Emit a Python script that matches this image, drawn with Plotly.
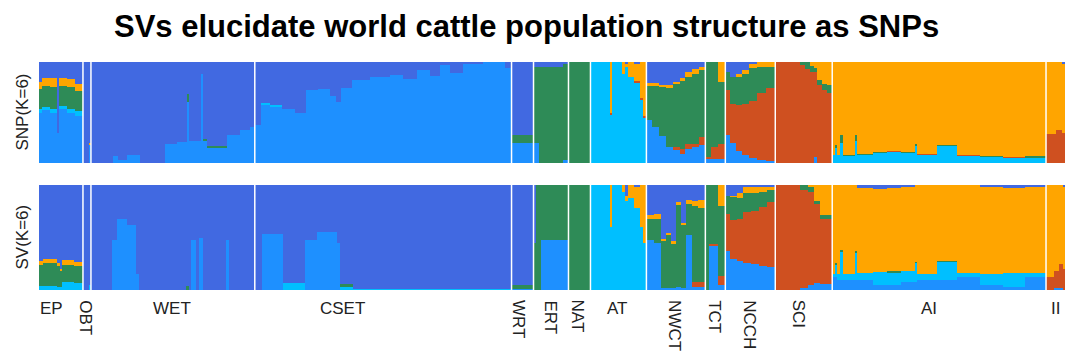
import plotly.graph_objects as go

# ---------------- data ----------------
groups = ["EP", "OBT", "WET", "CSET", "WRT", "ERT", "NAT", "AT", "NWCT", "TCT", "NCCH", "SCI", "AI", "II"]
group_sizes = [44, 8, 164, 257, 22, 35, 22, 56, 59, 20, 50, 57, 214, 19]
label_pos = [12.5, 46.3, 133.5, 304, 480.5, 512, 539.5, 578.5, 636, 676, 711, 761, 891, 1017]
label_rotated = [False, True, False, False, True, True, True, False, True, True, True, True, False, False]

components = ["K1", "K2", "K3", "K4", "K5", "K6"]
comp_colors = ["#1E90FF", "#00BFFF", "#CF5020", "#2E8B57", "#FFA500", "#4169E1"]

# rows: [width, K1 dodgerblue, K2 deepskyblue, K3 red, K4 green, K5 orange]; K6 (royal blue) = remainder
snp_rows = [
    # EP
    [3, .50, .03, 0, .20, .07], [8, .52, .03, 0, .21, .08], [8, .50, .03, 0, .22, .09],
    [1.5, .30, 0, 0, 0, 0], [8, .53, .03, 0, .20, .08], [8, .50, .03, 0, .22, .08],
    [7.5, .47, .04, 0, .20, .07],
    # OBT
    [6, 0, 0, 0, 0, 0], [2, .18, 0, 0, 0, .02],
    # WET
    [22, 0, 0, 0, 0, 0], [5, .07, 0, 0, 0, 0], [9, .03, 0, 0, 0, 0], [13, .08, 0, 0, 0, 0],
    [25, 0, 0, 0, 0, 0], [12, .19, 0, 0, 0, 0], [10, .21, 0, 0, 0, 0], [2, .60, 0, 0, .08, 0],
    [12, .22, 0, 0, 0, 0], [2, .88, 0, 0, 0, 0], [4, .22, 0, 0, .02, 0], [20, .15, 0, 0, .02, 0],
    [13, .28, 0, 0, 0, 0], [10, .33, 0, 0, 0, 0], [5, .36, 0, 0, 0, 0],
    # CSET
    [6, .38, 0, 0, 0, 0], [9, .58, .01, 0, 0, 0], [12, .56, .01, 0, 0, 0], [13, .53, 0, 0, 0, 0],
    [11, .50, 0, 0, 0, 0], [12, .72, 0, 0, 0, 0], [12, .73, 0, 0, 0, 0], [6, .66, 0, 0, 0, 0],
    [5, .60, 0, 0, 0, 0], [11, .74, 0, 0, 0, 0], [18, .82, 0, 0, 0, 0], [20, .85, 0, 0, 0, 0],
    [13, .87, 0, 0, 0, 0], [14, .83, 0, 0, 0, 0], [13, .92, 0, 0, 0, 0], [10, .86, 0, 0, 0, 0],
    [10, .97, 0, 0, 0, 0], [13, .89, 0, 0, 0, 0], [20, .98, 0, 0, 0, 0], [22, 1.0, 0, 0, 0, 0],
    [7, .94, 0, 0, 0, 0],
    # WRT
    [22, .20, 0, 0, .08, 0],
    # ERT
    [5, .20, 0, 0, .75, 0], [25, 0, 0, 0, .95, 0], [5, .03, 0, 0, .95, 0],
    # NAT
    [22, 0, 0, 0, 1.0, 0],
    # AT
    [20, 0, 1.0, 0, 0, 0], [2, 0, .48, .02, 0, .50], [10, 0, 1.0, 0, 0, 0], [3, 0, .88, 0, 0, .12],
    [3, 0, .95, 0, 0, .03], [6, 0, .85, 0, 0, .15], [6, 0, .80, .01, 0, .17], [3, 0, .62, .02, 0, .36],
    [3, 0, .45, .02, 0, .53],
    # NWCT
    [6, .43, 0, 0, .33, .03], [7, .36, 0, 0, .40, .03], [7, .27, 0, 0, .48, .02], [7, .16, 0, 0, .58, .03],
    [7, .13, 0, .03, .62, .02], [5, .09, 0, .05, .67, .03], [7, .14, 0, .05, .66, .05],
    [7, .16, 0, .03, .69, .05], [6, .18, 0, .08, .66, .03],
    # TCT
    [6, .04, 0, .02, .94, 0], [7, .04, 0, .12, .84, 0], [7, .04, 0, .15, .61, .20],
    # NCCH
    [5, .28, 0, .44, .18, 0], [6, .20, 0, .38, .27, 0], [6, .12, 0, .45, .28, .03],
    [7, .08, 0, .50, .30, .04], [8, .05, 0, .56, .33, .05], [9, .03, 0, .66, .26, .05],
    [9, .02, 0, .72, .21, .05],
    # SCI
    [25, 0, 0, 1.0, 0, 0], [5, 0, 0, .97, .03, 0], [5, 0, 0, .93, .07, 0], [4, 0, 0, .90, .06, .04],
    [3, .06, 0, .84, .04, .06], [5, 0, 0, .77, .05, .18], [5, 0, 0, .72, .06, .22], [5, 0, 0, .69, .08, .23],
    # AI
    [3, 0, .08, 0, 0, .92], [2, 0, .15, 0, .03, .82], [3, 0, .08, 0, 0, .92], [3, 0, .20, 0, .08, .72],
    [12, 0, .07, 0, .01, .92], [2, 0, .22, 0, .06, .72], [16, 0, .08, 0, .01, .91], [14, 0, .10, 0, .01, .89],
    [14, 0, .11, .01, 0, .88], [14, 0, .10, 0, .01, .89], [2, 0, .17, 0, .02, .81], [20, 0, .08, .01, 0, .91],
    [20, 0, .17, 0, .01, .82], [23, 0, .07, .01, 0, .92], [23, 0, .06, 0, .01, .93], [22, 0, .05, .01, 0, .94],
    [21, 0, .055, 0, .01, .935],
    # II
    [10, 0, 0, .29, 0, .71], [6, 0, 0, .33, 0, .67], [3, 0, 0, .30, 0, .68],
]

sv_rows = [
    # EP
    [4, 0, .04, 0, .20, .04], [14, 0, .035, 0, .22, .04], [3, 0, .03, 0, .20, .03],
    [2, 0, .03, 0, .15, .02], [12, 0, .08, 0, .16, .05], [9, 0, .07, 0, .16, .04],
    # OBT
    [6, 0, 0, 0, 0, 0], [2, 0, .05, 0, 0, 0],
    # WET
    [21, 0, 0, 0, 0, 0], [5, .48, 0, 0, 0, 0], [10, .68, 0, 0, 0, 0], [9, .62, 0, 0, 0, 0],
    [3, .15, 0, 0, 0, 0], [47, 0, 0, 0, 0, 0], [3, 0, 0, 0, .04, 0], [2, 0, 0, 0, 0, 0],
    [6, .48, 0, 0, 0, 0], [2, 0, 0, 0, 0, 0], [4, .50, 0, 0, 0, 0], [23, 0, 0, 0, 0, 0],
    [3, .48, 0, 0, 0, 0], [26, 0, 0, 0, 0, 0],
    # CSET
    [7, 0, 0, 0, 0, 0], [21, .53, 0, 0, 0, 0], [22, 0, .07, 0, 0, 0], [12, .48, 0, 0, 0, 0],
    [20, .55, 0, 0, 0, 0], [3, .45, 0, 0, 0, 0], [13, 0, .03, 0, .03, 0], [159, 0, .01, 0, 0, 0],
    # WRT
    [22, .01, 0, 0, .04, 0],
    # ERT
    [2, 0, 0, 0, .45, 0], [5, 0, 0, 0, 1.0, 0], [28, .48, 0, 0, .52, 0],
    # NAT
    [22, 0, 0, 0, 1.0, 0],
    # AT
    [20, 0, 1.0, 0, 0, 0], [2, 0, .60, 0, 0, .40], [10, 0, 1.0, 0, 0, 0], [3, 0, .93, 0, 0, .07],
    [3, 0, .85, 0, 0, .05], [6, 0, .88, 0, 0, .12], [6, 0, .78, 0, 0, .20], [3, 0, .60, 0, 0, .40],
    [3, 0, .45, 0, 0, .55],
    # NWCT
    [8, .48, 0, 0, .20, .03], [7, .45, 0, 0, .23, .04], [5, .02, 0, 0, .45, .02], [5, .02, 0, 0, .50, .02],
    [5, .02, 0, 0, .42, .03], [5, .03, 0, 0, .78, .03], [5, .02, 0, 0, .60, .02], [6, .52, 0, 0, .30, .04],
    [6, .03, 0, .05, .72, .05], [7, .03, 0, .05, .70, .08],
    # TCT
    [4, 0, 0, 0, 1.0, 0], [9, .42, 0, .02, .56, 0], [7, .05, 0, .08, .67, .20],
    # NCCH
    [5, .37, 0, .35, .18, 0], [7, .30, 0, .37, .22, .01], [6, .28, 0, .40, .20, .04],
    [8, .26, 0, .48, .18, .06], [8, .25, 0, .50, .17, .06], [8, .23, 0, .56, .14, .06],
    [8, .22, 0, .62, .11, .04],
    # SCI
    [25, 0, 0, 1.0, 0, 0], [8, .02, 0, .93, .05, 0], [6, .05, 0, .88, .05, .02],
    [6, .07, 0, .75, .03, .15], [12, .06, 0, .62, .03, .29],
    # AI
    [3, .12, .03, 0, 0, .85], [2, .12, .12, 0, .02, .74], [3, .10, .05, 0, 0, .85], [3, .10, .26, 0, .02, .62],
    [12, .10, .05, 0, 0, .85], [2, .10, .25, 0, .02, .63], [16, .10, .06, 0, 0, .81], [14, .05, .12, 0, 0, .79],
    [14, .05, .12, 0, .01, .79], [14, .08, .10, 0, 0, .80], [2, .08, .18, 0, .01, .73], [20, .10, .05, 0, 0, .85],
    [20, .10, .17, 0, .01, .72], [23, .12, .04, 0, 0, .84], [23, .05, .10, 0, 0, .83], [22, .03, .13, 0, 0, .81],
    [21, .12, .04, 0, 0, .83],
    # II
    [8, 0, 0, .12, 0, .88], [5, .02, 0, .16, 0, .82], [4, .02, 0, .23, 0, .75], [2, 0, 0, .20, 0, .78],
]

title_text = "SVs elucidate world cattle population structure as SNPs"
panel_labels = ["SNP(K=6)", "SV(K=6)"]

# ---------------- figure ----------------
# the page body has an 8px margin, so the figure is 8px smaller and
# positions below are given in window pixels minus that offset
OFF = 8
W, H = 1080 - OFF, 358 - OFF
def px_x(p):
    return (p - OFF) / W
def px_y(p):
    return 1 - (p - OFF) / H

total = sum(group_sizes)

fig = go.Figure()

def add_panel(rows, xa, ya):
    centers, widths = [], []
    pos = 0.0
    for r in rows:
        widths.append(r[0])
        centers.append(pos + r[0] / 2)
        pos += r[0]
    for k in range(6):
        if k < 5:
            vals = [r[k + 1] for r in rows]
        else:
            vals = [max(0.0, 1 - sum(r[1:6])) for r in rows]
        fig.add_trace(go.Bar(
            x=centers, y=vals, width=widths, name=components[k],
            marker=dict(color=comp_colors[k], line=dict(width=0)),
            xaxis=xa, yaxis=ya, showlegend=False, hoverinfo="skip",
        ))

add_panel(snp_rows, "x", "y")
add_panel(sv_rows, "x2", "y2")

xdom = [px_x(39), px_x(1065)]
fig.update_layout(
    width=W, height=H,
    margin=dict(l=0, r=0, t=0, b=0),
    paper_bgcolor="white", plot_bgcolor="white",
    barmode="stack", bargap=0,
    font=dict(family="Liberation Sans, Arial, sans-serif", color="#222"),
    xaxis=dict(domain=xdom, range=[0, total], visible=False, fixedrange=True),
    yaxis=dict(domain=[px_y(163), px_y(62)], range=[0, 1], visible=False),
    xaxis2=dict(domain=xdom, range=[0, total], visible=False, anchor="y2"),
    yaxis2=dict(domain=[px_y(290), px_y(185)], range=[0, 1], visible=False, anchor="x2"),
)

# group separators
shapes = []
b = 0
for s in group_sizes[:-1]:
    b += s
    for xr, yr in (("x", "y domain"), ("x2", "y2 domain")):
        shapes.append(dict(type="line", xref=xr, yref=yr, x0=b, x1=b, y0=0, y1=1,
                           line=dict(color="white", width=1.5)))
fig.update_layout(shapes=shapes)

ann = []
ann.append(dict(text="<b>" + title_text + "</b>", x=px_x(526), y=px_y(27), xref="paper", yref="paper",
                showarrow=False, xanchor="center", yanchor="middle",
                font=dict(size=31, color="black", family="Liberation Sans, Arial, sans-serif")))
ann.append(dict(text=panel_labels[0], x=px_x(22), y=px_y(112.5), xref="paper", yref="paper",
                showarrow=False, textangle=-90, xanchor="center", yanchor="middle",
                font=dict(size=17, color="#222")))
ann.append(dict(text=panel_labels[1], x=px_x(22), y=px_y(237.5), xref="paper", yref="paper",
                showarrow=False, textangle=-90, xanchor="center", yanchor="middle",
                font=dict(size=17, color="#222")))
for g, lx, rot in zip(groups, label_pos, label_rotated):
    if rot:
        ann.append(dict(text=g, x=lx, xref="x2", y=px_y(298), yref="paper", showarrow=False,
                        textangle=90, xanchor="center", yanchor="top",
                        font=dict(size=17, color="#222")))
    else:
        ann.append(dict(text=g, x=lx, xref="x2", y=px_y(308), yref="paper", showarrow=False,
                        xanchor="center", yanchor="middle",
                        font=dict(size=17, color="#222")))
fig.update_layout(annotations=ann)

fig.write_html("out.html")
